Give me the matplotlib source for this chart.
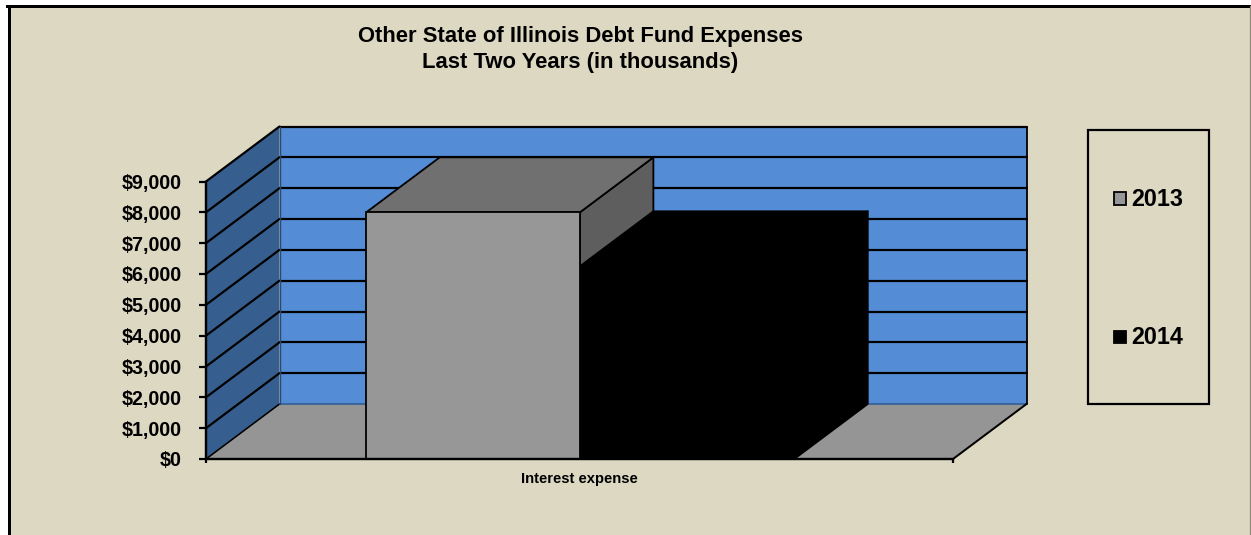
import matplotlib
matplotlib.use("Agg")
import matplotlib.pyplot as plt
from matplotlib.lines import Line2D
from matplotlib.patches import Polygon, Rectangle

# Chart content
title_lines = ["Other State of Illinois Debt Fund Expenses", "Last Two Years (in thousands)"]
category = "Interest expense"
series_names = ["2013", "2014"]
series_values = [8000, 6250]
y_ticks = [0, 1000, 2000, 3000, 4000, 5000, 6000, 7000, 8000, 9000]

# Palette
BG = "#DDD8C2"
WALL = "#548DD6"
SIDE_WALL = "#365F8F"
FLOOR = "#959595"
BAR_FRONT = ["#979797", "#000000"]
BAR_TOP = ["#707070", "#000000"]
BAR_SIDE = ["#5E5E5E", "#000000"]

W, H = 1251, 535
FONT = "Liberation Sans"
plt.rcParams["font.family"] = [FONT, "DejaVu Sans"]
plt.rcParams["font.weight"] = "bold"

fig = plt.figure(figsize=(W / 100, H / 100), dpi=100, facecolor="white")


def fx(px):
    return px / W


def fy(py):
    return 1 - py / H


def pt(px):
    return px * 0.72


# Outer chart area: beige fill, heavy top and left rules, thin grey right rule
fig.add_artist(Rectangle((fx(8), 0), fx(1250) - fx(8), fy(6) - 0,
                         transform=fig.transFigure, facecolor=BG, edgecolor="none", zorder=-5))
fig.add_artist(Line2D([fx(8.5), fx(8.5)], [0, fy(6.3)], transform=fig.transFigure,
                      color="black", lw=pt(3), zorder=-4))
fig.add_artist(Line2D([fx(7), 1], [fy(6.3), fy(6.3)], transform=fig.transFigure,
                      color="black", lw=pt(3), zorder=-4))
fig.add_artist(Line2D([fx(1250.3), fx(1250.3)], [0, fy(6.3)], transform=fig.transFigure,
                      color="#8C897C", lw=pt(1.2), zorder=-4))

# The axes rectangle is the front plane of the 3-D box
left, right, top, bottom = 206, 953, 181.5, 459
ax = fig.add_axes([fx(left), fy(bottom), fx(right) - fx(left), fy(top) - fy(bottom)])
ax.set_xlim(-0.5, 0.5)
ax.set_ylim(0, 9000)
ax.patch.set_visible(False)

# Depth vector, expressed in data units
DX = 73.5 / (right - left)
DY = 55 / (bottom - top) * 9000


def box_face(points, **kw):
    """Add a polygon given as (x, y, depth) points, depth running 0 to 1."""
    xy = [(x + d * DX, y + d * DY) for x, y, d in points]
    ax.add_patch(Polygon(xy, closed=True, clip_on=False, **kw))


def box_line(p, q, color="black", lw=2.2, z=2):
    xs = [p[0] + p[2] * DX, q[0] + q[2] * DX]
    ys = [p[1] + p[2] * DY, q[1] + q[2] * DY]
    ax.plot(xs, ys, color=color, lw=pt(lw), clip_on=False, zorder=z, solid_capstyle="round")


x0, x1 = ax.get_xlim()
ymax = y_ticks[-1]

# Back wall, side wall, floor
box_face([(x0, 0, 1), (x1, 0, 1), (x1, ymax, 1), (x0, ymax, 1)], facecolor=WALL, edgecolor="none", zorder=1)
box_face([(x0, 0, 0), (x0, 0, 1), (x0, ymax, 1), (x0, ymax, 0)], facecolor=SIDE_WALL, edgecolor="none", zorder=1)
box_face([(x0, 0, 0), (x1, 0, 0), (x1, 0, 1), (x0, 0, 1)], facecolor=FLOOR, edgecolor="none", zorder=1.5)

# Gridlines wrap round the side wall and along the back wall
for v in y_ticks[1:]:
    box_line((x0, v, 0), (x0, v, 1), z=2)
    box_line((x0, v, 1), (x1, v, 1), z=2)
box_line((x0, 0, 0), (x0, 0, 1), lw=1.6, z=2)
box_line((x0, 0, 1), (x1, 0, 1), color="#2F5C96", lw=1.6, z=2)
box_line((x0, 0, 1), (x0, ymax, 1), color="#2A4A70", lw=1.4, z=2)
box_line((x1, 0, 1), (x1, ymax, 1), lw=1.8, z=2)
box_line((x1, 0, 0), (x1, 0, 1), lw=2.0, z=2)

# Clustered bars: the earlier series' side and top sit behind the later bar,
# while its front face stays in front of everything
bar_edges = [-0.2855, 0.0005, 0.2875]
face_order = {0: (3, 3, 5), 1: (4, 4, 4)}
for i in (1, 0):
    a, b = bar_edges[i], bar_edges[i + 1]
    v = series_values[i]
    z_side, z_top, z_front = face_order[i]
    edge = dict(edgecolor="black", linewidth=pt(1.8), joinstyle="round")
    box_face([(b, 0, 0), (b, 0, 1), (b, v, 1), (b, v, 0)], facecolor=BAR_SIDE[i], zorder=z_side, **edge)
    box_face([(a, v, 0), (b, v, 0), (b, v, 1), (a, v, 1)], facecolor=BAR_TOP[i], zorder=z_top, **edge)
    box_face([(a, 0, 0), (b, 0, 0), (b, v, 0), (a, v, 0)], facecolor=BAR_FRONT[i], zorder=z_front, **edge)

# Axes furniture on the front plane
for s in ("top", "right"):
    ax.spines[s].set_visible(False)
for s in ("left", "bottom"):
    ax.spines[s].set_linewidth(pt(2.4))
    ax.spines[s].set_zorder(6)
ax.set_yticks(y_ticks)
ax.set_yticklabels([f"${v:,}" for v in y_ticks], fontsize=pt(19.6), fontweight="bold")
ax.tick_params(axis="y", length=pt(7), width=pt(2.2), pad=pt(17), color="black")
ax.set_xticks([0])
ax.set_xticklabels([category], fontsize=pt(14.8), fontweight="bold")
ax.set_xticks([x0, x1], minor=True)
ax.tick_params(axis="x", which="major", length=0, pad=pt(13))
ax.tick_params(axis="x", which="minor", length=pt(4), width=pt(2.2), color="black")

# Title
for line, py in zip(title_lines, (37, 62)):
    fig.text(fx(580.5), fy(py), line, ha="center", va="center", fontsize=pt(22), fontweight="bold")

# Legend box with one swatch and label per series
fig.add_artist(Rectangle((fx(1087.5), fy(404)), fx(1209) - fx(1087.5), fy(130) - fy(404),
                         transform=fig.transFigure, facecolor=BG, edgecolor="black",
                         linewidth=pt(2.2)))
for name, front, py in zip(series_names, BAR_FRONT, (199, 337)):
    fig.add_artist(Rectangle((fx(1113.5), fy(py + 6)), fx(12.5), fy(0) - fy(12.5),
                             transform=fig.transFigure, facecolor=front, edgecolor="black",
                             linewidth=pt(1.8)))
    fig.text(fx(1131), fy(py), name, ha="left", va="center", fontsize=pt(23.4), fontweight="bold")

fig.savefig("out.png", dpi=100, facecolor="white")
